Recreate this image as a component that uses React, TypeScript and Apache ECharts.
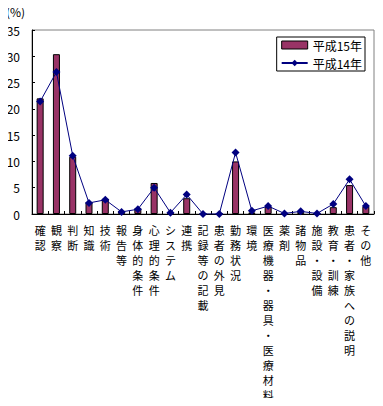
import React, { useEffect, useRef } from "react";
import * as echarts from "echarts";

const categories = [
  "確認", "観察", "判断", "知識", "技術", "報告等", "身体的条件", "心理的条件", "システム", "連携",
  "記録等の記載", "患者の外見", "勤務状況", "環境", "医療機器・器具・医療材料", "薬剤", "諸物品",
  "施設・設備", "教育・訓練", "患者・家族への説明", "その他",
];
const h15 = [22.0, 30.4, 10.9, 2.3, 2.9, 0.6, 1.1, 5.9, 0.1, 3.0, 0, 0, 10.0, 0.3, 1.4, 0.1, 0.4, 0.1, 1.3, 5.5, 1.4];
const h14 = [21.4, 27.0, 11.1, 2.1, 2.7, 0.4, 0.9, 5.0, 0.25, 3.7, 0, 0, 11.7, 0.6, 1.5, 0.1, 0.5, 0.1, 1.9, 6.6, 1.5];
const seriesNames = ["平成15年", "平成14年"];

const FONT = "'Noto Sans CJK JP', sans-serif";

export default function App() {
  const ref = useRef<HTMLDivElement>(null);
  useEffect(() => {
    if (!ref.current) return;
    const chart = echarts.init(ref.current, undefined, { renderer: "svg" });
    chart.setOption({
      animation: false,
      backgroundColor: "#fff",
      textStyle: { fontFamily: FONT },
      grid: { left: 32, right: 9, top: 30, bottom: 192, show: true, borderColor: "#808080", borderWidth: 1, backgroundColor: "transparent" },
      graphic: [
        { type: "text", left: 6, top: 5, style: { text: "(%)", fontSize: 12, fontFamily: FONT, fill: "#000" } },
      ],
      legend: {
        right: 18,
        top: 37,
        orient: "vertical",
        backgroundColor: "#fff",
        borderColor: "#000",
        borderWidth: 1,
        borderRadius: 0,
        padding: [2, 3, 2, 4],
        itemGap: 6,
        itemWidth: 26,
        itemHeight: 8,
        textStyle: { fontSize: 12, lineHeight: 12, fontFamily: FONT, color: "#000" },
        data: [
          { name: seriesNames[0], icon: "rect", itemStyle: { color: "#993366", borderColor: "#000", borderWidth: 1 } },
          { name: seriesNames[1] },
        ],
      },
      xAxis: {
        type: "category",
        data: categories,
        boundaryGap: true,
        axisLine: { lineStyle: { color: "#000", width: 1 } },
        axisTick: { show: true, inside: true, length: 3, alignWithLabel: false, lineStyle: { color: "#000" } },
        axisLabel: {
          interval: 0,
          margin: 8,
          fontSize: 11,
          lineHeight: 15,
          color: "#000",
          fontFamily: FONT,
          verticalAlign: "top",
          formatter: (v: string) => v.split("").join("\n"),
        },
        splitLine: { show: false },
      },
      yAxis: {
        type: "value",
        min: 0,
        max: 35,
        interval: 5,
        axisLine: { show: true, lineStyle: { color: "#000", width: 1 } },
        axisTick: { show: true, inside: true, length: 3, lineStyle: { color: "#000" } },
        axisLabel: { fontSize: 12, color: "#000", margin: 12, fontFamily: FONT },
        splitLine: { show: false },
      },
      series: [
        {
          name: seriesNames[0],
          type: "bar",
          data: h15,
          barWidth: 7,
          itemStyle: { color: "#993366", borderColor: "#000", borderWidth: 1 },
        },
        {
          name: seriesNames[1],
          type: "line",
          data: h14,
          symbol: "diamond",
          symbolSize: 8,
          lineStyle: { color: "#000080", width: 1 },
          itemStyle: { color: "#000080" },
        },
      ],
    });
    return () => chart.dispose();
  }, []);
  return <div ref={ref} style={{ width: 383, height: 406, margin: -8 }} />;
}
